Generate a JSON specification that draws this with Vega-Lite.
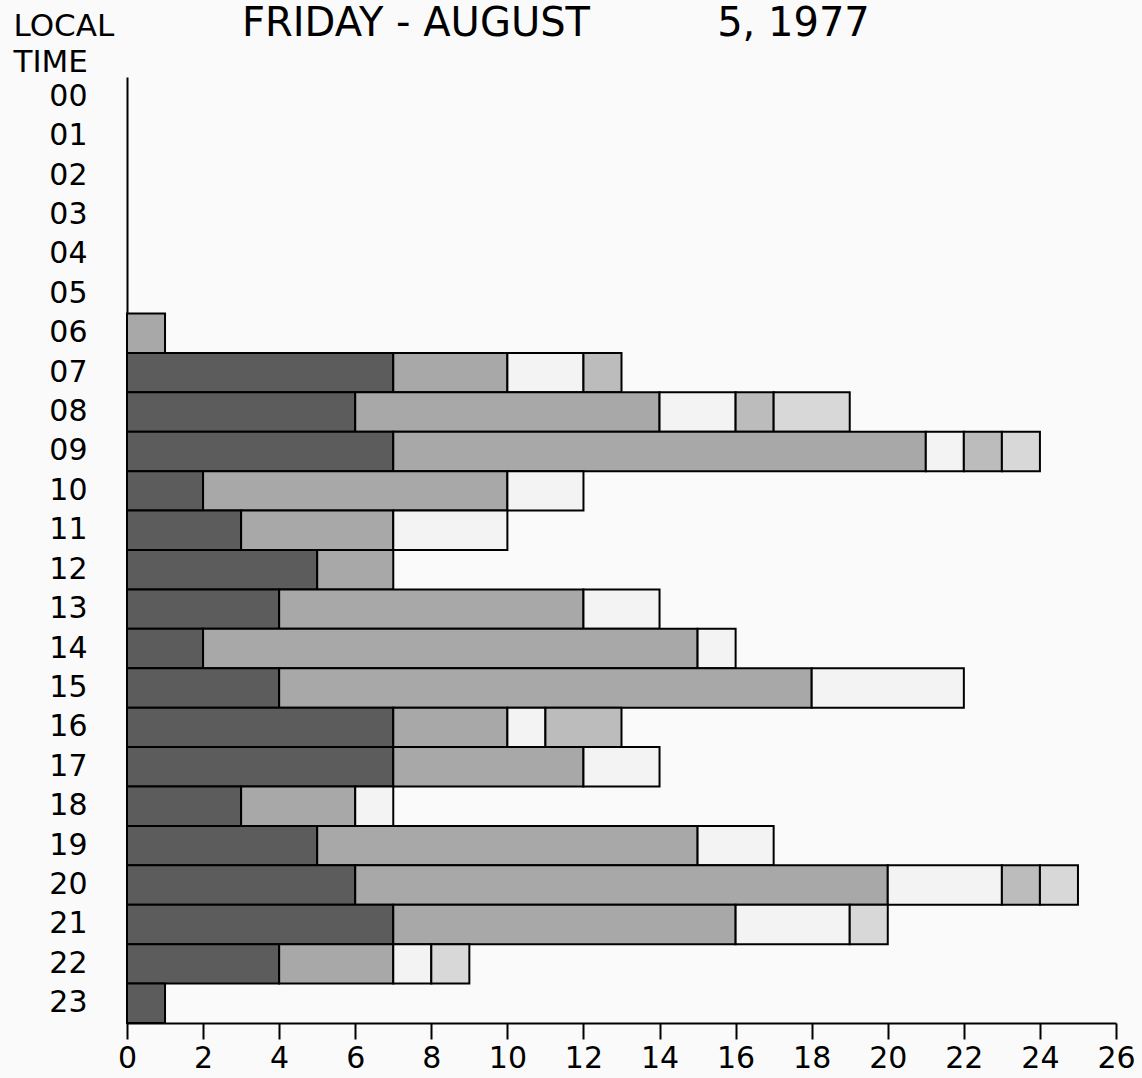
{
  "$schema": "https://vega.github.io/schema/vega-lite/v6.json",
  "autosize": "none",
  "width": 989,
  "height": 946,
  "padding": {"left": 127, "top": 77, "right": 26, "bottom": 55},
  "background": "#fafafa",
  "title": {
    "text": "FRIDAY - AUGUST\u00a0\u00a0\u00a0\u00a0\u00a0\u00a0\u00a0\u00a0\u00a0\u00a05, 1977",
    "anchor": "start",
    "frame": "group",
    "dx": 115,
    "offset": -66,
    "baseline": "alphabetic",
    "font": "DejaVu Sans",
    "fontSize": 40,
    "fontWeight": "normal",
    "color": "black"
  },
  "data": {
    "values": [
      {"hour": "06", "cat": "B", "n": 1},
      {"hour": "07", "cat": "A", "n": 7}, {"hour": "07", "cat": "B", "n": 3}, {"hour": "07", "cat": "C", "n": 2}, {"hour": "07", "cat": "D", "n": 1},
      {"hour": "08", "cat": "A", "n": 6}, {"hour": "08", "cat": "B", "n": 8}, {"hour": "08", "cat": "C", "n": 2}, {"hour": "08", "cat": "D", "n": 1}, {"hour": "08", "cat": "E", "n": 2},
      {"hour": "09", "cat": "A", "n": 7}, {"hour": "09", "cat": "B", "n": 14}, {"hour": "09", "cat": "C", "n": 1}, {"hour": "09", "cat": "D", "n": 1}, {"hour": "09", "cat": "E", "n": 1},
      {"hour": "10", "cat": "A", "n": 2}, {"hour": "10", "cat": "B", "n": 8}, {"hour": "10", "cat": "C", "n": 2},
      {"hour": "11", "cat": "A", "n": 3}, {"hour": "11", "cat": "B", "n": 4}, {"hour": "11", "cat": "C", "n": 3},
      {"hour": "12", "cat": "A", "n": 5}, {"hour": "12", "cat": "B", "n": 2},
      {"hour": "13", "cat": "A", "n": 4}, {"hour": "13", "cat": "B", "n": 8}, {"hour": "13", "cat": "C", "n": 2},
      {"hour": "14", "cat": "A", "n": 2}, {"hour": "14", "cat": "B", "n": 13}, {"hour": "14", "cat": "C", "n": 1},
      {"hour": "15", "cat": "A", "n": 4}, {"hour": "15", "cat": "B", "n": 14}, {"hour": "15", "cat": "C", "n": 4},
      {"hour": "16", "cat": "A", "n": 7}, {"hour": "16", "cat": "B", "n": 3}, {"hour": "16", "cat": "C", "n": 1}, {"hour": "16", "cat": "D", "n": 2},
      {"hour": "17", "cat": "A", "n": 7}, {"hour": "17", "cat": "B", "n": 5}, {"hour": "17", "cat": "C", "n": 2},
      {"hour": "18", "cat": "A", "n": 3}, {"hour": "18", "cat": "B", "n": 3}, {"hour": "18", "cat": "C", "n": 1},
      {"hour": "19", "cat": "A", "n": 5}, {"hour": "19", "cat": "B", "n": 10}, {"hour": "19", "cat": "C", "n": 2},
      {"hour": "20", "cat": "A", "n": 6}, {"hour": "20", "cat": "B", "n": 14}, {"hour": "20", "cat": "C", "n": 3}, {"hour": "20", "cat": "D", "n": 1}, {"hour": "20", "cat": "E", "n": 1},
      {"hour": "21", "cat": "A", "n": 7}, {"hour": "21", "cat": "B", "n": 9}, {"hour": "21", "cat": "C", "n": 3}, {"hour": "21", "cat": "E", "n": 1},
      {"hour": "22", "cat": "A", "n": 4}, {"hour": "22", "cat": "B", "n": 3}, {"hour": "22", "cat": "C", "n": 1}, {"hour": "22", "cat": "E", "n": 1},
      {"hour": "23", "cat": "A", "n": 1}
    ]
  },
  "mark": {"type": "bar", "stroke": "black", "strokeWidth": 2, "opacity": 1},
  "encoding": {
    "y": {
      "field": "hour",
      "type": "nominal",
      "scale": {
        "domain": ["00","01","02","03","04","05","06","07","08","09","10","11","12","13","14","15","16","17","18","19","20","21","22","23"],
        "paddingInner": 0,
        "paddingOuter": 0
      },
      "axis": {
        "title": ["LOCAL", "TIME"],
        "titleAngle": 0,
        "titleAlign": "left",
        "titleBaseline": "top",
        "titleX": -114,
        "titleY": -66,
        "titleLineHeight": 36,
        "titleFont": "DejaVu Sans",
        "titleFontSize": 31,
        "titleFontWeight": "normal",
        "titleColor": "black",
        "ticks": false,
        "labelPadding": 40,
        "labelFont": "DejaVu Sans",
        "labelFontSize": 30,
        "labelColor": "black",
        "domainColor": "black",
        "domainWidth": 2
      }
    },
    "x": {
      "field": "n",
      "type": "quantitative",
      "stack": "zero",
      "scale": {"domain": [0, 26], "nice": false},
      "axis": {
        "title": null,
        "values": [0,2,4,6,8,10,12,14,16,18,20,22,24,26],
        "grid": false,
        "tickSize": 16,
        "tickWidth": 2,
        "tickColor": "black",
        "labelPadding": 4,
        "labelFont": "DejaVu Sans",
        "labelFontSize": 30,
        "labelColor": "black",
        "labelFlush": false,
        "domainColor": "black",
        "domainWidth": 2
      }
    },
    "color": {
      "field": "cat",
      "type": "nominal",
      "scale": {
        "domain": ["A", "B", "C", "D", "E"],
        "range": ["#5c5c5c", "#a8a8a8", "#f3f3f3", "#bcbcbc", "#d8d8d8"]
      },
      "legend": null
    },
    "order": {"field": "cat", "type": "nominal", "sort": "ascending"}
  },
  "config": {
    "view": {"stroke": null},
    "axis": {"labelOverlap": false}
  }
}
